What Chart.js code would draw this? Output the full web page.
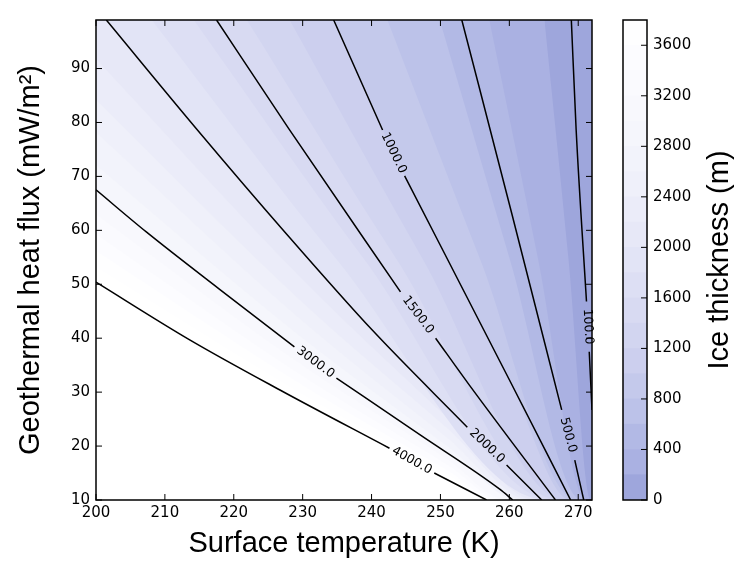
<!DOCTYPE html>
<html>
<head>
<meta charset="utf-8">
<script src="https://cdn.jsdelivr.net/npm/chart.js@4.4.1/dist/chart.umd.min.js"></script>
<style>
  html, body { margin: 0; padding: 0; background: #fff; }
  #wrap { position: relative; width: 754px; height: 576px; }
  canvas { position: absolute; left: 0; top: 0; }
</style>
</head>
<body>
<div id="wrap">
  <canvas id="main" width="754" height="576"></canvas>
  <canvas id="cbar" width="754" height="576"></canvas>
</div>
<script>
// [surface temperature (K), heat flux (mW/m2)]
// null marks the break where the contour label sits
const c4000 = [[200, 50.4], [213.6, 39.7], [226.7, 30.4], [242.6, 19.6], null, [249.1, 15.0], [256.7, 10]]
const c3000 = [[200, 67.5], [207.3, 59.7], [217.9, 49.1], [228.8, 38.4], null, [234.9, 32.6], [247.0, 22.1], [258.6, 12.0], [260.5, 10]]
const c2000 = [[201.5, 99], [214.6, 78.8], [227.4, 59.7], [240.1, 41.5], [253.9, 23.5], null, [259.6, 16.5], [264.7, 10]]
const c1500 = [[217.5, 99], [228.0, 78.8], [244.2, 48.6], null, [249.3, 40.0], [254.2, 31.3], [266.7, 10]]
const c1000 = [[234.5, 99], [241.6, 78.6], null, [244.8, 70.1], [260.0, 32.3], [268.9, 10]]
const c500 = [[253.1, 99], [260.4, 62.9], [267.6, 26.7], null, [269.5, 17.4], [270.8, 10]]
const c100 = [[269.0, 99], [269.7, 78.6], [271.2, 46.8], null, [271.6, 37.5], [272, 26.7]]

const contourLevels = [100, 500, 1000, 1500, 2000, 3000, 4000]
const contourLines = [c100, c500, c1000, c1500, c2000, c3000, c4000]

// edges of the filled bands (every 200 m), same units
const b200 = [[265.1, 99], [268.6, 54.5], [271.8, 10], [272, 10]]
const b400 = [[257.1, 99], [264.2, 54.5], [271.1, 10], [272, 10]]
const b600 = [[249.9, 99], [260.1, 54.5], [270.5, 10], [272, 10]]
const b800 = [[242.3, 99], [255.8, 54.5], [269.7, 10], [272, 10]]
const b1000 = [[234.5, 99], [241.6, 78.6], [244.8, 70.1], [260.0, 32.3], [268.9, 10], [272, 10]]
const b1200 = [[228.1, 99], [247.5, 54.5], [268.0, 10], [272, 10]]
const b1400 = [[221.9, 99], [243.7, 54.5], [267.2, 10], [272, 10]]
const b1600 = [[214.2, 99], [239.0, 54.5], [266.4, 10], [272, 10]]
const b1800 = [[208.1, 99], [235.0, 54.5], [265.5, 10], [272, 10]]
const b2000 = [[201.5, 99], [214.6, 78.8], [227.4, 59.7], [240.1, 41.5], [253.9, 23.5], [259.6, 16.5], [264.7, 10], [272, 10]]
const b2200 = [[200, 91.8], [229.6, 51.4], [251.3, 24.9], [263.8, 10], [272, 10]]
const b2400 = [[200, 84.2], [229.6, 47.1], [251.3, 23.0], [263.0, 10], [272, 10]]
const b2600 = [[200, 78.2], [229.6, 43.6], [251.3, 21.2], [262.2, 10], [272, 10]]
const b2800 = [[200, 72.1], [229.6, 40.4], [251.3, 19.7], [261.3, 10], [272, 10]]
const b3000 = [[200, 67.5], [207.3, 59.7], [217.9, 49.1], [228.8, 38.4], [234.9, 32.6], [247.0, 22.1], [258.6, 12.0], [260.5, 10], [272, 10]]
const b3200 = [[200, 63.0], [229.6, 35.3], [251.3, 17.3], [259.7, 10], [272, 10]]
const b3400 = [[200, 59.3], [229.6, 33.3], [251.3, 16.3], [259.0, 10], [272, 10]]
const b3600 = [[200, 56.2], [229.6, 31.6], [251.3, 15.3], [258.2, 10], [272, 10]]
const b3800 = [[200, 53.2], [229.6, 29.9], [251.3, 14.5], [257.4, 10], [272, 10]]

const bandLevels = [0, 200, 400, 600, 800, 1000, 1200, 1400, 1600, 1800, 2000, 2200, 2400, 2600, 2800, 3000, 3200, 3400, 3600, 3800]
const bandEdges = [b200, b400, b600, b800, b1000, b1200, b1400, b1600, b1800, b2000, b2200, b2400, b2600, b2800, b3000, b3200, b3400, b3600, b3800]

const xTicks = [200, 210, 220, 230, 240, 250, 260, 270]
const yTicks = [10, 20, 30, 40, 50, 60, 70, 80, 90]
const cbarTicks = [0, 400, 800, 1200, 1600, 2000, 2400, 2800, 3200, 3600]

const bandColors = ['#9ea6dc', '#aab1e2', '#b2b9e5', '#bcc2e9', '#c4c9eb', '#cccfee', '#d2d5f0', '#d8daf2', '#dddff4', '#e2e4f6',
  '#e7e8f7', '#ebecf9', '#eff0fa', '#f2f3fb', '#f5f6fc', '#f8f8fd', '#fafafe', '#fcfcff', '#fefeff']

Chart.defaults.font.family = '"DejaVu Sans", sans-serif'
Chart.defaults.color = '#000'

const toPoints = (arr) => arr.map((p, i) => p ? { x: p[0], y: p[1] } : { x: arr[i - 1][0], y: null })

// fills: each band edge filled up to the top of the axes, lowest level drawn last
const bandSets = bandEdges.map((edge, i) => ({
  data: toPoints(edge),
  backgroundColor: bandColors[i],
  borderWidth: 0,
  pointRadius: 0,
  fill: 'end',
  cubicInterpolationMode: 'monotone',
  order: 1
}))

const lineSets = contourLines.map((pts, i) => ({
  data: toPoints(pts),
  borderColor: '#000',
  borderWidth: 1.5,
  pointRadius: 0,
  fill: false,
  cubicInterpolationMode: 'monotone',
  order: 0,
  labelText: contourLevels[i].toFixed(1)
}))

const contourLabels = {
  id: 'contourLabels',
  afterDatasetsDraw(chart) {
    const ctx = chart.ctx
    chart.data.datasets.forEach((ds, i) => {
      if (!ds.labelText) return
      const pts = chart.getDatasetMeta(i).data
      const gap = ds.data.findIndex(p => p.y === null)
      const a = pts[gap - 1], b = pts[gap + 1]
      let ang = Math.atan2(b.y - a.y, b.x - a.x)
      if (ang > Math.PI / 2) ang -= Math.PI
      if (ang < -Math.PI / 2) ang += Math.PI
      ctx.save()
      ctx.translate((a.x + b.x) / 2, (a.y + b.y) / 2)
      ctx.rotate(ang)
      ctx.font = '12.5px "DejaVu Sans"'
      ctx.textAlign = 'center'
      ctx.textBaseline = 'middle'
      ctx.fillStyle = '#000'
      ctx.fillText(ds.labelText, 0, 0)
      ctx.restore()
    })
  }
}

// matplotlib-classic frame with inward ticks on all four sides
const frameTicks = {
  id: 'frameTicks',
  afterDraw(chart) {
    const { ctx, chartArea: a } = chart
    const { x, y } = chart.scales
    ctx.save()
    ctx.strokeStyle = '#000'
    ctx.lineWidth = 1
    ctx.beginPath()
    x.ticks.forEach(t => {
      const px = x.getPixelForValue(t.value)
      ctx.moveTo(px, a.bottom); ctx.lineTo(px, a.bottom - 6)
      ctx.moveTo(px, a.top); ctx.lineTo(px, a.top + 6)
    })
    y.ticks.forEach(t => {
      const py = y.getPixelForValue(t.value)
      ctx.moveTo(a.left, py); ctx.lineTo(a.left + 6, py)
      ctx.moveTo(a.right, py); ctx.lineTo(a.right - 6, py)
    })
    ctx.stroke()
    ctx.lineWidth = 1.5
    ctx.strokeRect(a.left, a.top, a.right - a.left, a.bottom - a.top)
    ctx.restore()
  }
}

new Chart(document.getElementById('main'), {
  type: 'line',
  data: { datasets: [...lineSets, ...bandSets] },
  options: {
    responsive: false,
    animation: false,
    layout: { padding: { left: 0, right: 162, top: 20, bottom: 0 } },
    plugins: { legend: { display: false }, tooltip: { enabled: false } },
    scales: {
      x: {
        type: 'linear', min: 200, max: 272,
        afterBuildTicks: s => { s.ticks = xTicks.map(v => ({ value: v })) },
        ticks: { padding: 4, font: { size: 15 }, maxRotation: 0, autoSkip: false, callback: v => String(v) },
        grid: { display: false, drawTicks: false },
        border: { display: false },
        title: { display: true, text: 'Surface temperature (K)', font: { family: '"Liberation Sans", Arial, sans-serif', size: 29 }, padding: { top: 0, bottom: 15 } },
        afterFit: s => { s.height = 76 }
      },
      y: {
        type: 'linear', min: 10, max: 99,
        afterBuildTicks: s => { s.ticks = yTicks.map(v => ({ value: v })) },
        ticks: { padding: 6, font: { size: 15 }, autoSkip: false, callback: v => String(v) },
        grid: { display: false, drawTicks: false },
        border: { display: false },
        title: { display: true, text: 'Geothermal heat flux (mW/m²)', font: { family: '"Liberation Sans", Arial, sans-serif', size: 29 }, padding: { top: 14, bottom: 0 } },
        afterFit: s => { s.width = 96 }
      }
    }
  },
  plugins: [contourLabels, frameTicks]
})

const cbarFrame = {
  id: 'cbarFrame',
  afterDraw(chart) {
    const { ctx, chartArea: a } = chart
    const y = chart.scales.y
    ctx.save()
    ctx.strokeStyle = '#000'
    ctx.lineWidth = 1
    ctx.beginPath()
    y.ticks.forEach(t => {
      const py = y.getPixelForValue(t.value)
      ctx.moveTo(a.right, py); ctx.lineTo(a.right - 6, py)
    })
    ctx.stroke()
    ctx.lineWidth = 1.5
    ctx.strokeRect(a.left, a.top, a.right - a.left, a.bottom - a.top)
    // colorbar label reads bottom to top like matplotlib's
    ctx.translate(720, (a.top + a.bottom) / 2)
    ctx.rotate(-Math.PI / 2)
    ctx.font = '29px "Liberation Sans", Arial, sans-serif'
    ctx.textAlign = 'center'
    ctx.textBaseline = 'middle'
    ctx.fillStyle = '#000'
    ctx.fillText('Ice thickness (m)', 0, 0)
    ctx.restore()
  }
}

new Chart(document.getElementById('cbar'), {
  type: 'bar',
  data: {
    labels: [''],
    datasets: bandColors.map((col, i) => ({
      data: [[bandLevels[i], bandLevels[i + 1] ?? 3800]],
      backgroundColor: col,
      borderWidth: 0,
      barPercentage: 1,
      categoryPercentage: 1,
      grouped: false
    }))
  },
  options: {
    responsive: false,
    animation: false,
    layout: { padding: { left: 623, right: 0, top: 20, bottom: 76 } },
    plugins: { legend: { display: false }, tooltip: { enabled: false } },
    scales: {
      x: { display: false },
      y: {
        position: 'right', min: 0, max: 3800,
        afterBuildTicks: s => { s.ticks = cbarTicks.map(v => ({ value: v })) },
        ticks: { padding: 6, font: { size: 15 }, autoSkip: false, callback: v => String(v) },
        grid: { display: false, drawTicks: false },
        border: { display: false },
        afterFit: s => { s.width = 107 }
      }
    }
  },
  plugins: [cbarFrame]
})
</script>
</body>
</html>
